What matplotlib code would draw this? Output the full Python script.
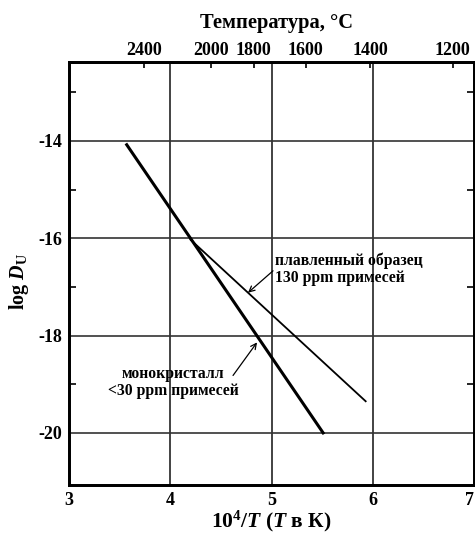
import matplotlib
matplotlib.use('Agg')
import matplotlib.pyplot as plt
import numpy as np

plt.rcParams['font.family'] = ['Liberation Serif', 'DejaVu Serif']
plt.rcParams['font.weight'] = 'bold'
plt.rcParams['mathtext.fontset'] = 'custom'
plt.rcParams['mathtext.rm'] = 'Liberation Serif:bold'
plt.rcParams['mathtext.it'] = 'Liberation Serif:bold:italic'
plt.rcParams['mathtext.bf'] = 'Liberation Serif:bold'

# data
mono_x = [3.57, 5.51]          # 10^4/T
mono_y = [-14.08, -20.0]       # log D
fused_x = [4.20, 5.93]
fused_y = [-16.03, -19.35]

temps_c = [2400, 2000, 1800, 1600, 1400, 1200]
xticks = [3, 4, 5, 6, 7]
yticks = [-14, -16, -18, -20]
yminor = [-13, -15, -17, -19]

fig = plt.figure(figsize=(4.75, 5.34), dpi=100)
ax = fig.add_axes([0.1453, 0.0918, 0.8526, 0.7921])

ax.set_xlim(3, 7)
ax.set_ylim(-21.07, -12.38)

for x in xticks[1:-1]:
    ax.axvline(x, color='#222222', lw=1.2, zorder=1)
for y in yticks:
    ax.axhline(y, color='#333333', lw=1.2, zorder=1)

ax.plot(mono_x, mono_y, color='black', lw=2.2, zorder=3)
ax.plot(fused_x, fused_y, color='black', lw=1.3, zorder=3)

ax.set_xticks(xticks)
ax.set_yticks(yticks)
ax.set_yticks(yminor, minor=True)
ax.tick_params(axis='both', which='major', length=0, labelsize=13, pad=5)
ax.tick_params(axis='y', which='minor', direction='in', length=5, width=1.2,
               left=True, right=True)
ax.set_xticklabels([str(v) for v in xticks], fontweight='bold')
ax.get_xticklabels()[-1].set_horizontalalignment('right')
ax.set_yticklabels([str(v) for v in yticks], fontweight='bold')
for s in ax.spines.values():
    s.set_linewidth(2)

ax2 = ax.twiny()
ax2.set_xlim(3, 7)
ax2.set_xticks([1e4 / (t + 273.15) for t in temps_c])
ax2.set_xticklabels([str(t) for t in temps_c], fontweight='bold')
ax2.tick_params(axis='x', direction='in', length=4, width=1.2, labelsize=13, pad=2)
for s in ax2.spines.values():
    s.set_linewidth(2)

fig.text(0.583, 0.956, 'Температура, °C', ha='center', va='center',
         fontsize=14.8, fontweight='bold')
ax.set_xlabel('$10^4$/$\\mathit{T}$ ($\\mathit{T}$ в К)', fontsize=15.5,
              fontweight='bold', labelpad=0)
ax.set_ylabel('log $\\mathit{D}_{\\rm U}$', fontsize=14.5, fontweight='bold')
ax.yaxis.set_label_coords(-0.094, 0.48)

ax.text(5.035, -16.63, 'плавленный образец\n130 ppm примесей',
        fontsize=11.3, fontweight='bold', ha='left', va='center',
        linespacing=1.1)
ax.annotate('', xy=(4.768, -17.12), xytext=(5.015, -16.67),
            arrowprops=dict(arrowstyle='->', color='black', lw=0.9,
                            shrinkA=0, shrinkB=0))
ax.text(4.03, -18.96, 'монокристалл\n<30 ppm примесей',
        fontsize=11.3, fontweight='bold', ha='center', va='center',
        linespacing=1.1)
ax.annotate('', xy=(4.857, -18.14), xytext=(4.62, -18.82),
            arrowprops=dict(arrowstyle='->', color='black', lw=0.9,
                            shrinkA=0, shrinkB=0))

fig.savefig('out.png', dpi=100)
